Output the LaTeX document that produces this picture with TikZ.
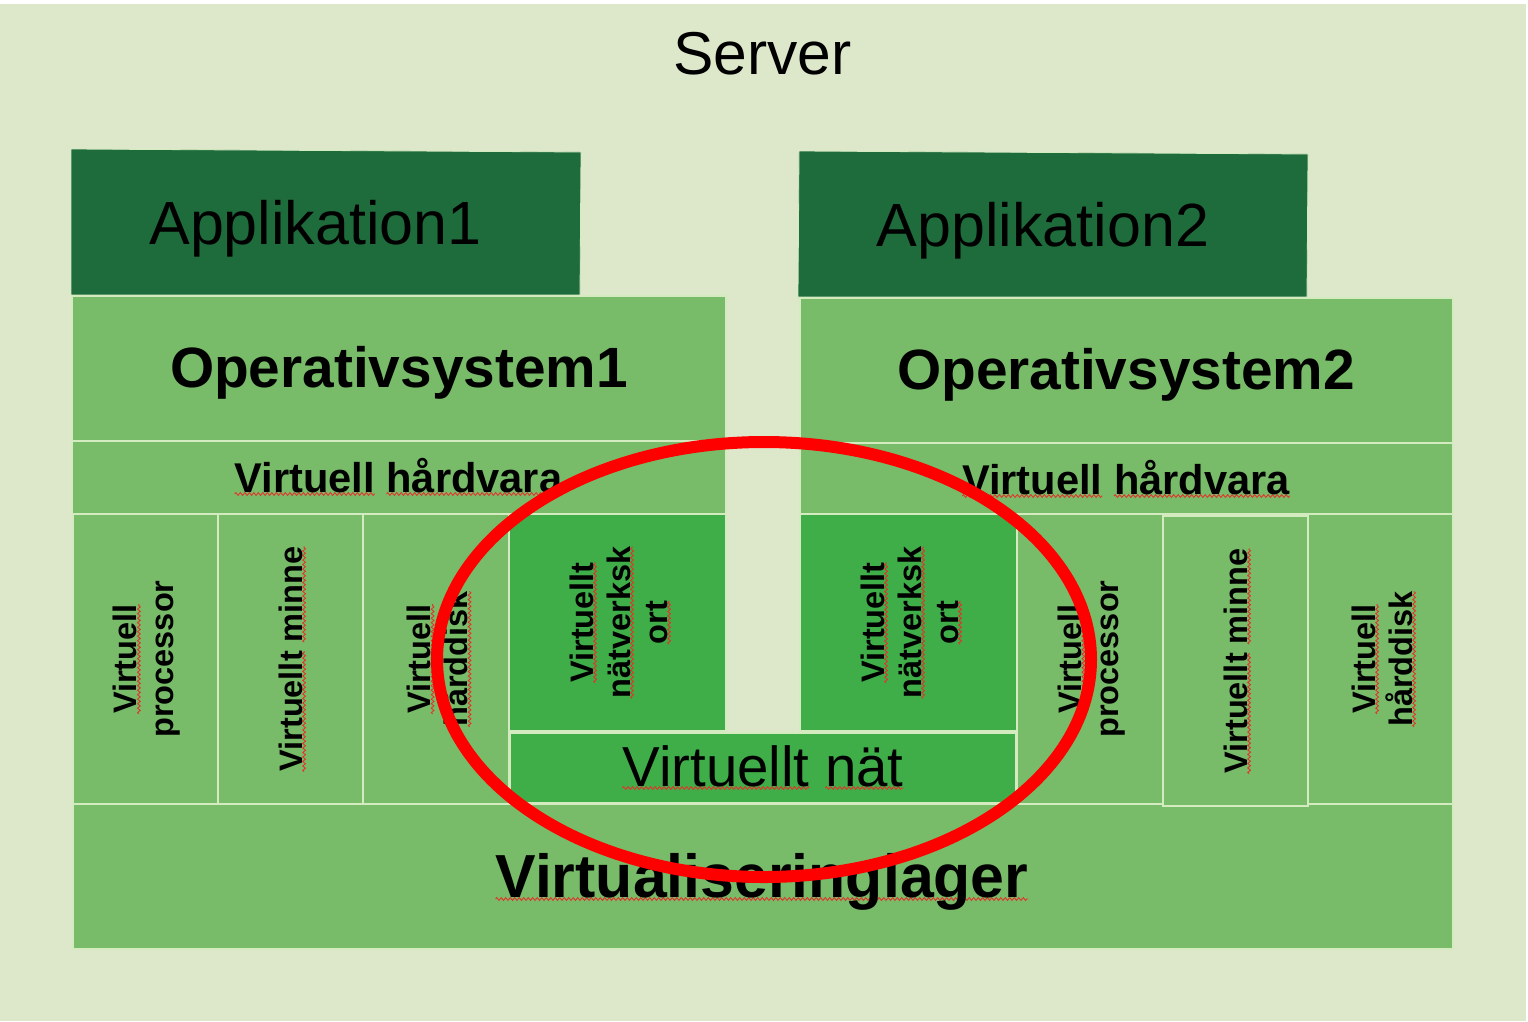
\documentclass[tikz,border=0pt]{standalone}
\usepackage{fontspec}
\setmainfont{Liberation Sans}
\usetikzlibrary{decorations.pathmorphing}
\definecolor{bg}{HTML}{DDE8CB}
\definecolor{appgreen}{HTML}{1E6B3C}
\definecolor{osgreen}{HTML}{78BB68}
\definecolor{netgreen}{HTML}{3FAE49}
\definecolor{edge}{HTML}{D4EBC0}
\definecolor{wavered}{HTML}{E8302A}
\newsavebox\sqbox
\newlength\sqlen
\newcommand\sq[1]{\sbox\sqbox{#1}\setlength\sqlen{\wd\sqbox}\tikz[overlay,baseline=0pt]\draw[sqline] (0pt,-2pt) -- (\sqlen,-2pt);\usebox\sqbox}
\newcommand\cellbox[6]{\node[#1, minimum width={#4-#2}, minimum height={#5-#3}] (#6) at (#2,#3) {};}
\tikzset{
  sqline/.style={draw=wavered, line width=0.85pt, decorate, decoration={zigzag, amplitude=1.4pt, segment length=4.5pt}},
  lbox/.style={fill=osgreen, draw=edge, line width=1.2pt, inner sep=0pt, outer sep=0pt, anchor=north west},
  nbox/.style={lbox, fill=netgreen},
  appshape/.style={fill=appgreen, draw=edge, line width=0.8pt},
  htext/.style={anchor=base, inner sep=0pt},
  vtext/.style={rotate=90, align=center, inner sep=0pt, font={\bfseries\fontsize{32.5}{37}\selectfont}},
  redring/.style={draw=red, line width=12pt},
}
\begin{document}
\begin{tikzpicture}[x=1pt, y=-1pt]
\useasboundingbox (0,0) rectangle (1528,1021);
\fill[white] (0,0) rectangle (1528,1021);
\fill[bg] (0,4) rectangle (1526,1021);

% title
\node[htext, font=\fontsize{60.5}{72}\selectfont] (server) at (762.5,74) {Server};

% applications
\draw[appshape] (71,149) -- (581,152) -- (580,295) -- (71,295) -- cycle;
\draw[appshape] (799,151) -- (1308,154) -- (1307,297) -- (798,297) -- cycle;
\node[htext, font=\fontsize{61}{72}\selectfont] (app1) at (315.5,244) {Applikation1};
\node[htext, font=\fontsize{61}{72}\selectfont] (app2) at (1043,246) {Applikation2};

% operating systems and virtual hardware
\cellbox{lbox}{72}{296}{726}{441}{os1}
\cellbox{lbox}{72}{441}{726}{514}{vh1}
\cellbox{lbox}{800}{298}{1453}{443}{os2}
\cellbox{lbox}{800}{443}{1453}{514}{vh2}
\node[htext, font={\bfseries\fontsize{56.8}{67}\selectfont}] (os1t) at (399,387) {Operativsystem1};
\node[htext, font={\bfseries\fontsize{56.8}{67}\selectfont}] (os2t) at (1126,389) {Operativsystem2};
\node[htext, font={\bfseries\fontsize{41.6}{49}\selectfont}] (vh1t) at (398.5,492) {\sq{Virtuell} \sq{hårdvara}};
\node[htext, font={\bfseries\fontsize{41.6}{49}\selectfont}] (vh2t) at (1126,494) {\sq{Virtuell} \sq{hårdvara}};

% virtualisation layer
\cellbox{lbox}{73}{804}{1453}{949}{vl}

% left cells
\cellbox{lbox}{73}{514}{218}{804}{proc1}
\cellbox{lbox}{218}{514}{363}{804}{mem1}
\cellbox{lbox}{363}{514}{509}{804}{hdd1}
\cellbox{nbox}{509}{514}{726}{731}{nic1}
% right cells
\cellbox{nbox}{800}{514}{1017}{731}{nic2}
\cellbox{lbox}{1017}{514}{1163}{804}{proc2}
\cellbox{lbox}{1163}{516}{1308}{806}{mem2}
\cellbox{lbox}{1308}{514}{1453}{804}{hdd2}
% virtual network
\cellbox{nbox}{510}{733}{1016}{803}{vnet}

\node[vtext] (proc1t) at ([xshift=1.5pt]proc1.center) {\sq{Virtuell}\\processor};
\node[vtext] (mem1t) at (mem1.center) {\sq{Virtuellt} \sq{minne}};
\node[vtext] (hdd1t) at ([xshift=1.5pt]hdd1.center) {\sq{Virtuell}\\\sq{hårddisk}};
\node[vtext] (nic1t) at ([xshift=1pt]nic1.center) {\sq{Virtuellt}\\\sq{nätverksk}\\\sq{ort}};
\node[vtext] (nic2t) at ([xshift=1pt]nic2.center) {\sq{Virtuellt}\\\sq{nätverksk}\\\sq{ort}};
\node[vtext] (proc2t) at ([xshift=1.5pt]proc2.center) {\sq{Virtuell}\\processor};
\node[vtext] (mem2t) at (mem2.center) {\sq{Virtuellt} \sq{minne}};
\node[vtext] (hdd2t) at ([xshift=1.5pt]hdd2.center) {\sq{Virtuell}\\\sq{hårddisk}};

\node[htext, font=\fontsize{56.4}{67}\selectfont] (vnett) at (763,786) {\sq{Virtuellt} \sq{nät}};
\node[htext, font={\bfseries\fontsize{60.8}{72}\selectfont}] (vlt) at (762,897) {\sq{Virtualiseringlager}};

% highlight ring
\draw[redring] (764,659.5) ellipse [x radius=327, y radius=217.5];
\end{tikzpicture}
\end{document}
